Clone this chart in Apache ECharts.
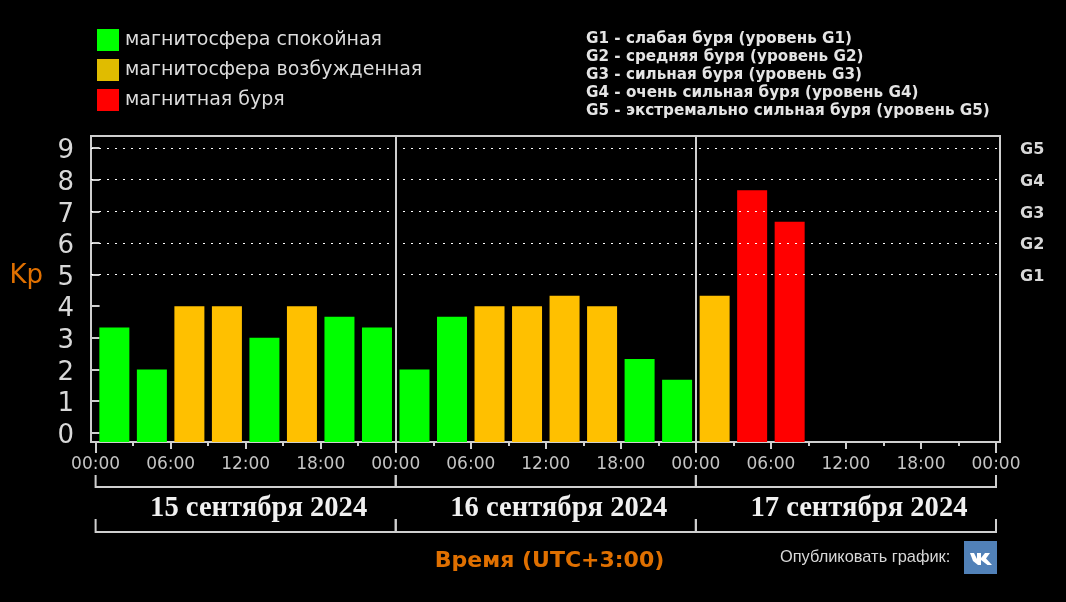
<!DOCTYPE html>
<html>
<head>
<meta charset="utf-8">
<style>
html, body { margin: 0; padding: 0; background: #000; }
#chart { width: 1066px; height: 602px; }
</style>
<script src="https://cdn.jsdelivr.net/npm/echarts@6/dist/echarts.min.js"></script>
</head>
<body>
<div id="chart"></div>
<script>
// three hour Kp values, bar centres in hours from the start of 15 September
var barHours = [1.5, 4.5, 7.5, 10.5, 13.5, 16.5, 19.5, 22.5,
                25.5, 28.5, 31.5, 34.5, 37.5, 40.5, 43.5, 46.5,
                49.5, 52.5, 55.5];
var kpValues = [3.33, 2, 4, 4, 3, 4, 3.67, 3.33,
                2, 3.67, 4, 4, 4.33, 4, 2.33, 1.67,
                4.33, 7.67, 6.67];
var kpTicks = [0, 1, 2, 3, 4, 5, 6, 7, 8, 9];
var stormLevels = [5, 6, 7, 8, 9];
var stormNames = ['G1', 'G2', 'G3', 'G4', 'G5'];
var hourTicks = [0, 3, 6, 9, 12, 15, 18, 21, 24, 27, 30, 33, 36, 39, 42, 45, 48, 51, 54, 57, 60, 63, 66, 69, 72];
var labelHours = [0, 6, 12, 18, 24, 30, 36, 42, 48, 54, 60, 66, 72];
var hourLabels = ['00:00', '06:00', '12:00', '18:00', '00:00', '06:00', '12:00', '18:00', '00:00', '06:00', '12:00', '18:00', '00:00'];
var dayStarts = [0, 24, 48];
var dayTicks = [0, 24, 48, 72];
var daySeparators = [24, 48];
var dayLabels = ['15 сентября 2024', '16 сентября 2024', '17 сентября 2024'];
var legendNames = ['магнитосфера спокойная', 'магнитосфера возбужденная', 'магнитная буря'];
var stormLines = [
    'G1 - слабая буря (уровень G1)',
    'G2 - средняя буря (уровень G2)',
    'G3 - сильная буря (уровень G3)',
    'G4 - очень сильная буря (уровень G4)',
    'G5 - экстремально сильная буря (уровень G5)'
];

var X_MIN = -0.368, X_MAX = 72.32;
var Y_MIN = -0.297, Y_MAX = 9.386;
var LINE = '#cfcfcf';
var ORANGE = '#e07000';

var myChart = echarts.init(document.getElementById('chart'));

// bars stand on the frame, below Kp 0, so they get their own axis shifted by Y_MIN
function pickBars(from, to) {
    var out = [];
    for (var i = 0; i < kpValues.length; i++) {
        if (kpValues[i] >= from && kpValues[i] < to) {
            out.push([barHours[i], kpValues[i] - Y_MIN]);
        }
    }
    return out;
}

function barSeries(name, color, from, to) {
    return {
        name: name,
        type: 'bar',
        stack: 'kp',
        xAxisIndex: 0,
        yAxisIndex: 2,
        barWidth: 30,
        silent: true,
        itemStyle: { color: color },
        data: pickBars(from, to)
    };
}

function hourAxis(ticks, tickLength) {
    return {
        type: 'value',
        position: 'bottom',
        min: X_MIN,
        max: X_MAX,
        axisLine: { show: false, onZero: false },
        axisTick: { show: true, length: tickLength, customValues: ticks, lineStyle: { color: LINE, width: 2 } },
        axisLabel: { show: false },
        splitLine: { show: false }
    };
}

var labelAxis = hourAxis(labelHours, 7);
labelAxis.axisLabel = {
    show: true,
    customValues: labelHours,
    margin: 14,
    color: '#c4c4c4',
    fontFamily: 'DejaVu Sans',
    fontSize: 17,
    showMinLabel: true,
    showMaxLabel: true,
    hideOverlap: false,
    formatter: function (value) {
        return hourLabels[labelHours.indexOf(value)];
    }
};

var stormSeries = barSeries(legendNames[2], '#ff0000', 5, 10);
var levelLines = stormLevels.map(function (v) { return { yAxis: v - Y_MIN }; });
var dayLines = daySeparators.map(function (h) {
    return { xAxis: h, lineStyle: { color: LINE, type: 'solid', width: 2 } };
});
stormSeries.markLine = {
    silent: true,
    symbol: 'none',
    animation: false,
    label: { show: false },
    lineStyle: { color: '#ffffff', type: [2, 6], width: 1 },
    data: levelLines.concat(dayLines)
};

var option = {
    backgroundColor: '#000',
    animation: false,
    grid: {
        left: 91, right: 66, top: 136, bottom: 160,
        outerBoundsMode: 'none',
        show: true,
        borderColor: LINE,
        borderWidth: 2,
        backgroundColor: 'transparent'
    },
    legend: {
        left: 97,
        top: 29,
        padding: 0,
        orient: 'vertical',
        itemWidth: 22,
        itemHeight: 22,
        itemGap: 8,
        selectedMode: false,
        textStyle: { color: '#dcdcdc', fontFamily: 'DejaVu Sans', fontSize: 19, padding: [0, 0, 0, 1] },
        data: [
            { name: legendNames[0], icon: 'rect', itemStyle: { color: '#00ff00' } },
            { name: legendNames[1], icon: 'rect', itemStyle: { color: '#e0bc00' } },
            { name: legendNames[2], icon: 'rect', itemStyle: { color: '#ff0000' } }
        ]
    },
    xAxis: [hourAxis(hourTicks, 4), labelAxis, hourAxis(dayTicks, 11)],
    yAxis: [
        {
            type: 'value',
            position: 'left',
            min: Y_MIN,
            max: Y_MAX,
            name: 'Kp',
            nameLocation: 'middle',
            nameRotate: 0,
            nameGap: 48,
            nameTextStyle: { color: ORANGE, fontFamily: 'DejaVu Sans', fontSize: 26, verticalAlign: 'bottom' },
            axisLine: { show: false },
            axisTick: { show: true, length: 4, customValues: kpTicks, lineStyle: { color: LINE, width: 2 } },
            axisLabel: {
                customValues: kpTicks,
                margin: 17,
                color: '#d8d8d8',
                fontFamily: 'DejaVu Sans',
                fontSize: 26,
                verticalAlign: 'top',
                lineHeight: 7,
                formatter: function (value) { return String(value); }
            },
            splitLine: { show: false }
        },
        {
            type: 'value',
            position: 'right',
            min: Y_MIN,
            max: Y_MAX,
            axisLine: { show: false },
            axisTick: { show: true, length: 4, customValues: kpTicks, lineStyle: { color: LINE, width: 2 } },
            axisLabel: {
                customValues: stormLevels,
                margin: 20,
                color: '#d8d8d8',
                fontFamily: 'DejaVu Sans',
                fontWeight: 'bold',
                fontSize: 16,
                verticalAlign: 'top',
                lineHeight: 4,
                formatter: function (value) { return stormNames[stormLevels.indexOf(value)]; }
            },
            splitLine: { show: false }
        },
        {
            type: 'value',
            show: false,
            min: 0,
            max: Y_MAX - Y_MIN
        }
    ],
    series: [
        barSeries(legendNames[0], '#00ff00', 0, 4),
        barSeries(legendNames[1], '#ffc000', 4, 5),
        stormSeries
    ]
};
myChart.setOption(option);

// text and brackets around the plot
var graphics = [];

stormLines.forEach(function (line, i) {
    graphics.push({
        type: 'text', x: 586, y: 39 + i * 18, silent: true,
        style: { text: line, fill: '#e4e4e4', verticalAlign: 'middle', font: 'bold 15.2px "DejaVu Sans"' }
    });
});

function bracket(xFrom, xTo, yTop, yLine) {
    graphics.push({
        type: 'polyline', silent: true,
        shape: { points: [[xFrom, yTop], [xFrom, yLine], [xTo, yLine], [xTo, yTop]] },
        style: { stroke: LINE, lineWidth: 2, fill: null }
    });
}

dayStarts.forEach(function (start, i) {
    var x0 = myChart.convertToPixel({ xAxisIndex: 0 }, start);
    var x1 = myChart.convertToPixel({ xAxisIndex: 0 }, start + 24);
    bracket(x0, x1, 475, 487);
    bracket(x0, x1, 519, 532);
    graphics.push({
        type: 'text', x: (x0 + x1) / 2 + 13, y: 509, silent: true,
        style: { text: dayLabels[i], fill: '#f0f0f0', align: 'center', verticalAlign: 'middle', font: 'bold 28.6px "Liberation Serif"' }
    });
});

graphics.push({
    type: 'text', x: 549.5, y: 561, silent: true,
    style: { text: 'Время (UTC+3:00)', fill: ORANGE, align: 'center', verticalAlign: 'middle', font: 'bold 22px "DejaVu Sans"' }
});
graphics.push({
    type: 'text', x: 780, y: 557, silent: true,
    style: { text: 'Опубликовать график:', fill: '#d8d8d8', verticalAlign: 'middle', font: '16.4px "Liberation Sans"' }
});
graphics.push({
    type: 'rect', silent: true,
    shape: { x: 964, y: 541, width: 33, height: 33 },
    style: { fill: '#5181b8' }
});
graphics.push({
    type: 'polygon', silent: true,
    shape: {
        points: [[970, 553], [974, 553], [977, 559], [977, 553], [981, 553], [981, 558], [985, 553], [990, 553],
                 [986, 558.5], [992, 565], [987.5, 565], [981, 560], [981, 565], [978, 565], [973, 561]]
    },
    style: { fill: '#ffffff' }
});

myChart.setOption({ graphic: graphics });
</script>
</body>
</html>
